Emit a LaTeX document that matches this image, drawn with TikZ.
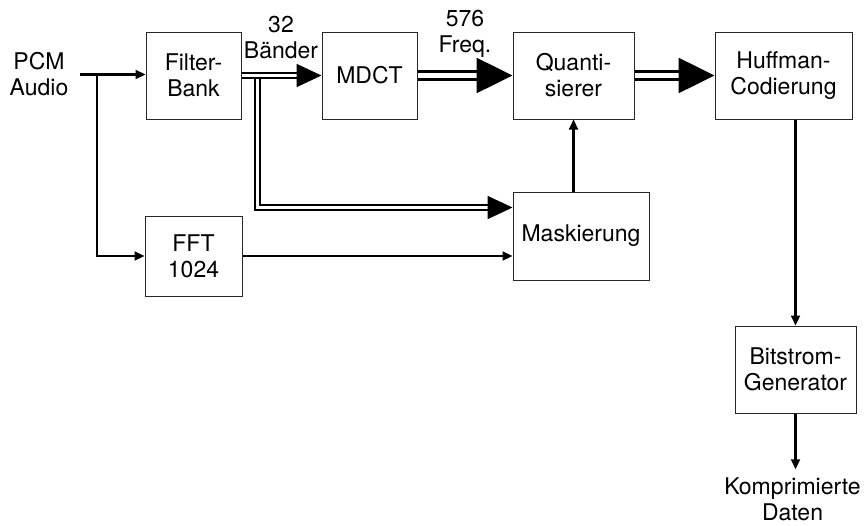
\documentclass[tikz,border=0pt]{standalone}
\usepackage{fontspec}
\setmainfont{TeX Gyre Heros}
\usepackage{tikz}
\usetikzlibrary{arrows.meta}
\usetikzlibrary{calc}

\begin{document}
\begin{tikzpicture}[x=1pt,y=-1pt,font=\fontsize{23}{26}\selectfont,
        block/.style={draw=black!85,line width=1pt,minimum height=87pt,align=center,inner sep=0pt},
        label text/.style={align=center,inner sep=0pt},
        signal/.style={line width=2.2pt,-{Triangle[length=10pt,width=9pt]}},
        band arrow/.style={double,double distance=3.6pt,line width=1.9pt,-{Triangle[length=25pt,width=23pt]}},
        freq arrow/.style={double,double distance=5.6pt,line width=2.6pt,-{Triangle[length=36pt,width=35pt]}}]

        \useasboundingbox (0,0) rectangle (867,525);

        \node[block,minimum width=95pt] (fb) at (193.5,75.5) {Filter-\\Bank};
        \node[block,minimum width=95pt] (mdct) at (369.5,75.5) {MDCT};
        \node[block,minimum width=121pt] (quant) at (573.5,75.5) {Quanti-\\sierer};
        \node[block,minimum width=137pt] (huff) at (783.5,75.5) {Huffman-\\Codierung};
        \node[block,minimum width=136pt,minimum height=88pt] (mask) at (581,236) {Maskierung};
        \node[block,minimum width=97pt,minimum height=80pt] (fft) at (193.5,256) {FFT\\1024};
        \node[block,minimum width=121pt] (bit) at (795.5,369.5) {Bitstrom-\\Generator};

        \node[label text] (pcm) at (39,74.5) {PCM\\Audio};
        \node[label text] (nbands) at (281,38) {32\\Bänder};
        \node[label text] (nfreq) at (465,33.6) {576\\Freq.};
        \node[label text] (out) at (792.5,499) {Komprimierte\\Daten};

        \coordinate (tap) at (97,0 |- pcm.east);
        \coordinate (split) at (257.5,0 |- fb.east);

        \draw[signal,shorten <=12pt] (pcm.east) -- (pcm.east -| fb.west);
        \draw[signal] (tap) |- (fft.west);
        \draw[band arrow] ([yshift=-3.8pt]split) |- ($(mask.north west)!0.18!(mask.south west)$);
        \draw[band arrow] (fb.east) -- (mdct.west);
        \draw[freq arrow] (mdct.east) -- (quant.west);
        \draw[freq arrow] (quant.east) -- (huff.west);
        \draw[signal] (fft.east) -- (fft.east -| mask.west);
        \draw[signal] (mask.north -| quant.south) -- (quant.south);
        \draw[signal] (huff.south -| bit.north) -- (bit.north);
        \draw[signal,shorten >=8pt] (bit.south) -- (bit.south |- out.north);
    \end{tikzpicture}
\end{document}
